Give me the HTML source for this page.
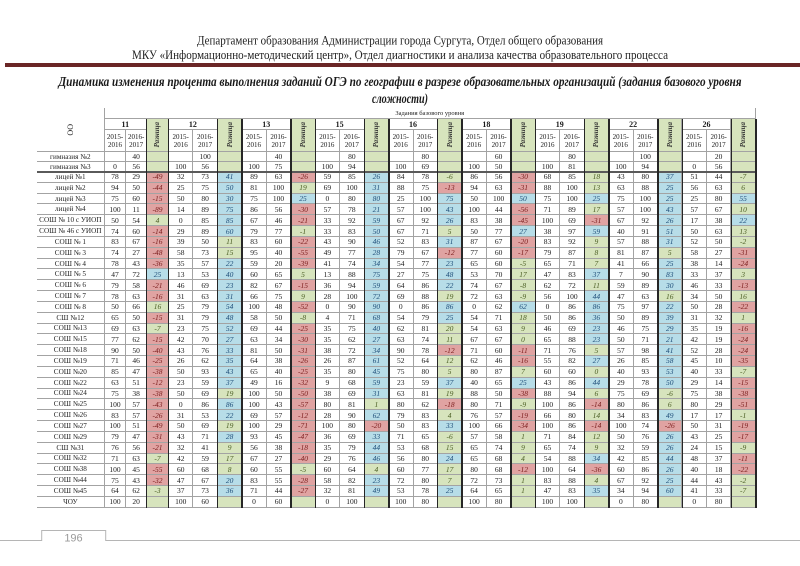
<!DOCTYPE html>
<html><head><meta charset="utf-8">
<style>
html,body{margin:0;padding:0;background:#fff;}
body{width:800px;height:566px;position:relative;overflow:hidden;}
svg.pg{position:absolute;left:0;top:0;}
#t{position:absolute;left:37px;top:108px;display:grid;
grid-template-columns:67.7px 21.6px 20.7px 22px repeat(24,24.467px);
grid-template-rows:11px 11px 22px 10.3px 9.7px repeat(31,10.84px);
font-family:"Liberation Serif","DejaVu Serif",serif;font-size:7.5px;color:#1a1a1a;}
#t p{margin:0;box-sizing:border-box;border-right:1px solid #a3a3a3;border-bottom:1px solid #a3a3a3;
display:flex;align-items:center;justify-content:center;white-space:nowrap;overflow:hidden;}
#t p.l{font-size:7.2px;color:#222;}
#t p.r{background:#e0a3a2;color:#7a1c1c;font-style:italic;}
#t p.b{background:#b7dde8;color:#1f4e79;font-style:italic;}
#t p.g{background:#d7e4bd;color:#4a5d23;font-style:italic;}
#t p.oo{grid-row:span 3;}
#t p.oo em{writing-mode:vertical-rl;transform:rotate(180deg);font-style:normal;font-size:8px;}
#t p.zd{grid-column:span 27;font-size:6.5px;}
#t p.gn{grid-column:span 2;font-weight:bold;font-size:8px;}
#t p.rz{grid-row:span 2;background:#d7e4bd;}
#t p.rz em{writing-mode:vertical-rl;transform:rotate(180deg);font-style:italic;font-weight:bold;font-size:7px;color:#333;}
#t p.y{display:block;text-align:center;line-height:8px;padding-top:3px;font-size:7px;}
.vl{position:absolute;top:119px;height:389px;width:1.5px;background:#262626;}
.sep{position:absolute;left:37px;top:170.6px;width:719.2px;height:2px;background:#5a5a5a;}
</style></head><body>
<svg class="pg" width="800" height="566" viewBox="0 0 800 566">
<text x="400" y="44.5" text-anchor="middle" font-family="Liberation Serif, serif" font-size="13" fill="#222" textLength="406" lengthAdjust="spacingAndGlyphs">Департамент образования Администрации города Сургута, Отдел общего образования</text>
<text x="400" y="59" text-anchor="middle" font-family="Liberation Serif, serif" font-size="13" fill="#222" textLength="536" lengthAdjust="spacingAndGlyphs">МКУ «Информационно-методический центр», Отдел диагностики и анализа качества образовательного процесса</text>
<rect x="5" y="63" width="795" height="4" fill="#6a2626"/>
<text x="400" y="86" text-anchor="middle" font-family="Liberation Serif, serif" font-size="14" font-weight="bold" font-style="italic" fill="#1a1a1a" textLength="683" lengthAdjust="spacingAndGlyphs">Динамика изменения процента выполнения заданий ОГЭ по географии в разрезе образовательных организаций (задания базового уровня</text>
<text x="400" y="103" text-anchor="middle" font-family="Liberation Serif, serif" font-size="14" font-weight="bold" font-style="italic" fill="#1a1a1a" textLength="56" lengthAdjust="spacingAndGlyphs">сложности)</text>
<path d="M0 540.5 H41.7 V530.5 H105.7 V540.5 H800" fill="none" stroke="#b5b5b5" stroke-width="1"/>
<text x="73.5" y="541.5" text-anchor="middle" font-family="Liberation Sans, sans-serif" font-size="11" fill="#9a9a9a">196</text>
</svg>
<div id="t">
<p class=oo><em>ОО</em><p class=zd>Задания базового уровня
<p class=gn>11<p class=rz><em>Разница</em><p class=gn>12<p class=rz><em>Разница</em><p class=gn>13<p class=rz><em>Разница</em><p class=gn>15<p class=rz><em>Разница</em><p class=gn>16<p class=rz><em>Разница</em><p class=gn>18<p class=rz><em>Разница</em><p class=gn>19<p class=rz><em>Разница</em><p class=gn>22<p class=rz><em>Разница</em><p class=gn>26<p class=rz><em>Разница</em>
<p class=y>2015-<br>2016<p class=y>2016-<br>2017<p class=y>2015-<br>2016<p class=y>2016-<br>2017<p class=y>2015-<br>2016<p class=y>2016-<br>2017<p class=y>2015-<br>2016<p class=y>2016-<br>2017<p class=y>2015-<br>2016<p class=y>2016-<br>2017<p class=y>2015-<br>2016<p class=y>2016-<br>2017<p class=y>2015-<br>2016<p class=y>2016-<br>2017<p class=y>2015-<br>2016<p class=y>2016-<br>2017<p class=y>2015-<br>2016<p class=y>2016-<br>2017
<p class=l>гимназия №2<p><p>40<p class=g><p><p>100<p class=g><p><p>40<p class=g><p><p>80<p class=g><p><p>80<p class=g><p><p>60<p class=g><p><p>80<p class=g><p><p>100<p class=g><p><p>20<p class=g>
<p class=l>гимназия №3<p>0<p>56<p class=g><p>100<p>56<p class=g><p>100<p>75<p class=g><p>100<p>94<p class=g><p>100<p>69<p class=g><p>100<p>50<p class=g><p>100<p>81<p class=g><p>100<p>94<p class=g><p>0<p>56<p class=g>
<p class=l>лицей №1<p>78<p>29<p class=r>-49<p>32<p>73<p class=b>41<p>89<p>63<p class=r>-26<p>59<p>85<p class=b>26<p>84<p>78<p class=g>-6<p>86<p>56<p class=r>-30<p>68<p>85<p class=g>18<p>43<p>80<p class=b>37<p>51<p>44<p class=g>-7
<p class=l>лицей №2<p>94<p>50<p class=r>-44<p>25<p>75<p class=b>50<p>81<p>100<p class=g>19<p>69<p>100<p class=b>31<p>88<p>75<p class=r>-13<p>94<p>63<p class=r>-31<p>88<p>100<p class=g>13<p>63<p>88<p class=b>25<p>56<p>63<p class=g>6
<p class=l>лицей №3<p>75<p>60<p class=r>-15<p>50<p>80<p class=b>30<p>75<p>100<p class=b>25<p>0<p>80<p class=b>80<p>25<p>100<p class=b>75<p>50<p>100<p class=b>50<p>75<p>100<p class=b>25<p>75<p>100<p class=b>25<p>25<p>80<p class=b>55
<p class=l>лицей №4<p>100<p>11<p class=r>-89<p>14<p>89<p class=b>75<p>86<p>56<p class=r>-30<p>57<p>78<p class=b>21<p>57<p>100<p class=b>43<p>100<p>44<p class=r>-56<p>71<p>89<p class=g>17<p>57<p>100<p class=b>43<p>57<p>67<p class=g>10
<p class=l>СОШ № 10 с УИОП<p>50<p>54<p class=g>4<p>0<p>85<p class=b>85<p>67<p>46<p class=r>-21<p>33<p>92<p class=b>59<p>67<p>92<p class=b>26<p>83<p>38<p class=r>-45<p>100<p>69<p class=r>-31<p>67<p>92<p class=b>26<p>17<p>38<p class=b>22
<p class=l>СОШ № 46 с УИОП<p>74<p>60<p class=r>-14<p>29<p>89<p class=b>60<p>79<p>77<p class=g>-1<p>33<p>83<p class=b>50<p>67<p>71<p class=g>5<p>50<p>77<p class=b>27<p>38<p>97<p class=b>59<p>40<p>91<p class=b>51<p>50<p>63<p class=g>13
<p class=l>СОШ № 1<p>83<p>67<p class=r>-16<p>39<p>50<p class=g>11<p>83<p>60<p class=r>-22<p>43<p>90<p class=b>46<p>52<p>83<p class=b>31<p>87<p>67<p class=r>-20<p>83<p>92<p class=g>9<p>57<p>88<p class=b>31<p>52<p>50<p class=g>-2
<p class=l>СОШ № 3<p>74<p>27<p class=r>-48<p>58<p>73<p class=g>15<p>95<p>40<p class=r>-55<p>49<p>77<p class=b>28<p>79<p>67<p class=r>-12<p>77<p>60<p class=r>-17<p>79<p>87<p class=g>8<p>81<p>87<p class=g>5<p>58<p>27<p class=r>-31
<p class=l>СОШ № 4<p>78<p>43<p class=r>-36<p>35<p>57<p class=b>22<p>59<p>20<p class=r>-39<p>41<p>74<p class=b>34<p>54<p>77<p class=b>23<p>65<p>60<p class=g>-5<p>65<p>71<p class=g>7<p>41<p>66<p class=b>25<p>38<p>14<p class=r>-24
<p class=l>СОШ № 5<p>47<p>72<p class=b>25<p>13<p>53<p class=b>40<p>60<p>65<p class=g>5<p>13<p>88<p class=b>75<p>27<p>75<p class=b>48<p>53<p>70<p class=g>17<p>47<p>83<p class=b>37<p>7<p>90<p class=b>83<p>33<p>37<p class=g>3
<p class=l>СОШ № 6<p>79<p>58<p class=r>-21<p>46<p>69<p class=b>23<p>82<p>67<p class=r>-15<p>36<p>94<p class=b>59<p>64<p>86<p class=b>22<p>74<p>67<p class=g>-8<p>62<p>72<p class=g>11<p>59<p>89<p class=b>30<p>46<p>33<p class=r>-13
<p class=l>СОШ № 7<p>78<p>63<p class=r>-16<p>31<p>63<p class=b>31<p>66<p>75<p class=g>9<p>28<p>100<p class=b>72<p>69<p>88<p class=g>19<p>72<p>63<p class=g>-9<p>56<p>100<p class=b>44<p>47<p>63<p class=g>16<p>34<p>50<p class=g>16
<p class=l>СОШ № 8<p>50<p>66<p class=g>16<p>25<p>79<p class=b>54<p>100<p>48<p class=r>-52<p>0<p>90<p class=b>90<p>0<p>86<p class=b>86<p>0<p>62<p class=b>62<p>0<p>86<p class=b>86<p>75<p>97<p class=b>22<p>50<p>28<p class=r>-22
<p class=l>СШ №12<p>65<p>50<p class=r>-15<p>31<p>79<p class=b>48<p>58<p>50<p class=g>-8<p>4<p>71<p class=b>68<p>54<p>79<p class=b>25<p>54<p>71<p class=g>18<p>50<p>86<p class=b>36<p>50<p>89<p class=b>39<p>31<p>32<p class=g>1
<p class=l>СОШ №13<p>69<p>63<p class=g>-7<p>23<p>75<p class=b>52<p>69<p>44<p class=r>-25<p>35<p>75<p class=b>40<p>62<p>81<p class=g>20<p>54<p>63<p class=g>9<p>46<p>69<p class=b>23<p>46<p>75<p class=b>29<p>35<p>19<p class=r>-16
<p class=l>СОШ №15<p>77<p>62<p class=r>-15<p>42<p>70<p class=b>27<p>63<p>34<p class=r>-30<p>35<p>62<p class=b>27<p>63<p>74<p class=g>11<p>67<p>67<p class=g>0<p>65<p>88<p class=b>23<p>50<p>71<p class=b>21<p>42<p>19<p class=r>-24
<p class=l>СОШ №18<p>90<p>50<p class=r>-40<p>43<p>76<p class=b>33<p>81<p>50<p class=r>-31<p>38<p>72<p class=b>34<p>90<p>78<p class=r>-12<p>71<p>60<p class=r>-11<p>71<p>76<p class=g>5<p>57<p>98<p class=b>41<p>52<p>28<p class=r>-24
<p class=l>СОШ №19<p>71<p>46<p class=r>-25<p>26<p>62<p class=b>35<p>64<p>38<p class=r>-26<p>26<p>87<p class=b>61<p>52<p>64<p class=g>12<p>62<p>46<p class=r>-16<p>55<p>82<p class=b>27<p>26<p>85<p class=b>58<p>45<p>10<p class=r>-35
<p class=l>СОШ №20<p>85<p>47<p class=r>-38<p>50<p>93<p class=b>43<p>65<p>40<p class=r>-25<p>35<p>80<p class=b>45<p>75<p>80<p class=g>5<p>80<p>87<p class=g>7<p>60<p>60<p class=g>0<p>40<p>93<p class=b>53<p>40<p>33<p class=g>-7
<p class=l>СОШ №22<p>63<p>51<p class=r>-12<p>23<p>59<p class=b>37<p>49<p>16<p class=r>-32<p>9<p>68<p class=b>59<p>23<p>59<p class=b>37<p>40<p>65<p class=b>25<p>43<p>86<p class=b>44<p>29<p>78<p class=b>50<p>29<p>14<p class=r>-15
<p class=l>СОШ №24<p>75<p>38<p class=r>-38<p>50<p>69<p class=g>19<p>100<p>50<p class=r>-50<p>38<p>69<p class=b>31<p>63<p>81<p class=g>19<p>88<p>50<p class=r>-38<p>88<p>94<p class=g>6<p>75<p>69<p class=g>-6<p>75<p>38<p class=r>-38
<p class=l>СОШ №25<p>100<p>57<p class=r>-43<p>0<p>86<p class=b>86<p>100<p>43<p class=r>-57<p>80<p>81<p class=g>1<p>80<p>62<p class=r>-18<p>80<p>71<p class=g>-9<p>100<p>86<p class=r>-14<p>80<p>86<p class=g>6<p>80<p>29<p class=r>-51
<p class=l>СОШ №26<p>83<p>57<p class=r>-26<p>31<p>53<p class=b>22<p>69<p>57<p class=r>-12<p>28<p>90<p class=b>62<p>79<p>83<p class=g>4<p>76<p>57<p class=r>-19<p>66<p>80<p class=g>14<p>34<p>83<p class=b>49<p>17<p>17<p class=g>-1
<p class=l>СОШ №27<p>100<p>51<p class=r>-49<p>50<p>69<p class=g>19<p>100<p>29<p class=r>-71<p>100<p>80<p class=r>-20<p>50<p>83<p class=b>33<p>100<p>66<p class=r>-34<p>100<p>86<p class=r>-14<p>100<p>74<p class=r>-26<p>50<p>31<p class=r>-19
<p class=l>СОШ №29<p>79<p>47<p class=r>-31<p>43<p>71<p class=b>28<p>93<p>45<p class=r>-47<p>36<p>69<p class=b>33<p>71<p>65<p class=g>-6<p>57<p>58<p class=g>1<p>71<p>84<p class=g>12<p>50<p>76<p class=b>26<p>43<p>25<p class=r>-17
<p class=l>СШ №31<p>76<p>56<p class=r>-21<p>32<p>41<p class=g>9<p>56<p>38<p class=r>-18<p>35<p>79<p class=b>44<p>53<p>68<p class=g>15<p>65<p>74<p class=g>9<p>65<p>74<p class=g>9<p>32<p>59<p class=b>26<p>24<p>15<p class=g>-9
<p class=l>СОШ №32<p>71<p>63<p class=g>-7<p>42<p>59<p class=g>17<p>67<p>27<p class=r>-40<p>29<p>76<p class=b>46<p>56<p>80<p class=b>24<p>65<p>68<p class=g>4<p>54<p>88<p class=b>34<p>42<p>85<p class=b>44<p>48<p>37<p class=r>-11
<p class=l>СОШ №38<p>100<p>45<p class=r>-55<p>60<p>68<p class=g>8<p>60<p>55<p class=g>-5<p>60<p>64<p class=g>4<p>60<p>77<p class=g>17<p>80<p>68<p class=r>-12<p>100<p>64<p class=r>-36<p>60<p>86<p class=b>26<p>40<p>18<p class=r>-22
<p class=l>СОШ №44<p>75<p>43<p class=r>-32<p>47<p>67<p class=b>20<p>83<p>55<p class=r>-28<p>58<p>82<p class=b>23<p>72<p>80<p class=g>7<p>72<p>73<p class=g>1<p>83<p>88<p class=g>4<p>67<p>92<p class=b>25<p>44<p>43<p class=g>-2
<p class=l>СОШ №45<p>64<p>62<p class=g>-3<p>37<p>73<p class=b>36<p>71<p>44<p class=r>-27<p>32<p>81<p class=b>49<p>53<p>78<p class=b>25<p>64<p>65<p class=g>1<p>47<p>83<p class=b>35<p>34<p>94<p class=b>60<p>41<p>33<p class=g>-7
<p class=l>ЧОУ<p>100<p>20<p class=g><p>100<p>60<p class=g><p>0<p>60<p class=g><p>0<p>100<p class=g><p>100<p>80<p class=g><p>100<p>80<p class=g><p>100<p>100<p class=g><p>0<p>80<p class=g><p>0<p>80<p class=g>
</div>
<div class="sep"></div>
<div class="vl" style="left:145.8px"></div><div class="vl" style="left:167.8px"></div>
<div class="vl" style="left:216.73px"></div><div class="vl" style="left:241.2px"></div>
<div class="vl" style="left:290.13px"></div><div class="vl" style="left:314.6px"></div>
<div class="vl" style="left:363.53px"></div><div class="vl" style="left:388px"></div>
<div class="vl" style="left:436.93px"></div><div class="vl" style="left:461.4px"></div>
<div class="vl" style="left:510.33px"></div><div class="vl" style="left:534.8px"></div>
<div class="vl" style="left:583.73px"></div><div class="vl" style="left:608.2px"></div>
<div class="vl" style="left:657.13px"></div><div class="vl" style="left:681.6px"></div>
<div class="vl" style="left:730.53px"></div><div class="vl" style="left:755px"></div>
</body></html>
